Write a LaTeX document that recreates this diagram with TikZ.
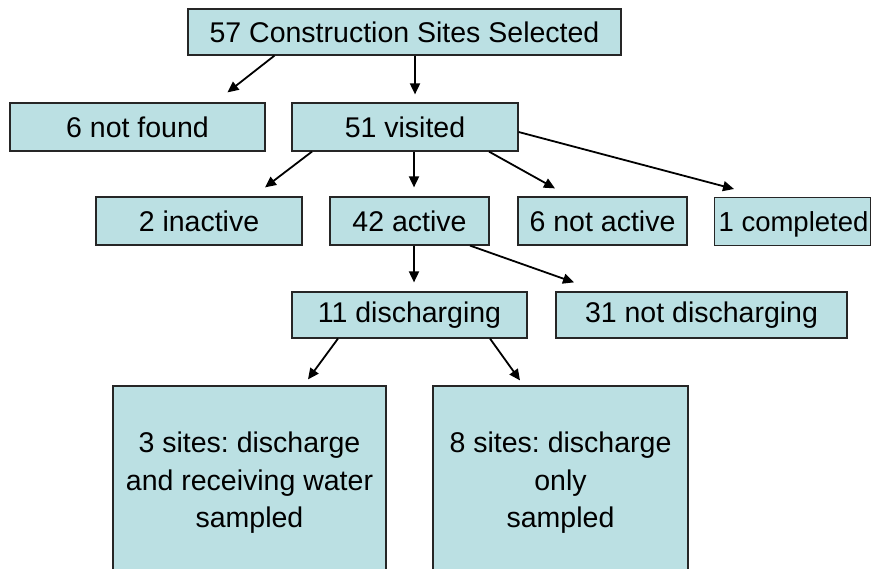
\documentclass[tikz,border=0pt]{standalone}
\usepackage{fontspec}
\setmainfont{Liberation Sans}
\usetikzlibrary{arrows.meta}
\frenchspacing

\definecolor{boxfill}{RGB}{187,224,227}

\begin{document}
\begin{tikzpicture}[x=1pt,y=1pt,
    box/.style={draw=black!85,line width=1.2pt,fill=boxfill,inner sep=0pt,
      font=\fontsize{28.5}{37.5}\selectfont},
    arr/.style={line width=1.8pt,-{Triangle[length=11pt,width=10pt]}}]
\useasboundingbox (0,0) rectangle (872,-569);
\begin{scope}
\clip (0,0) rectangle (872,-569);
% top level
\node[box,minimum width=433pt,minimum height=46pt] (sel) at (404.5,-32) {57 Construction Sites Selected};
\node[box,minimum width=255pt,minimum height=48pt] (notfound) at (137.5,-127) {6 not found};
\node[box,minimum width=226pt,minimum height=48pt] (visited) at (405,-127) {51 visited};
% visited
\node[box,minimum width=206pt,minimum height=48pt] (inactive) at (199,-221) {2 inactive};
\node[box,minimum width=159pt,minimum height=48pt] (active) at (409.5,-221) {42 active};
\node[box,minimum width=169pt,minimum height=48pt] (notactive) at (602.5,-221) {6 not active};
\node[box,minimum height=48pt,inner xsep=4pt,anchor=north west,text depth=0pt,
  font=\fontsize{27.5}{37.5}\selectfont] (completed) at (714,-197) {\makebox[148pt][l]{1 completed}};
% active
\node[box,minimum width=235pt,minimum height=46pt] (disch) at (409.5,-315) {11 discharging};
\node[box,minimum width=291pt,minimum height=46pt] (notdisch) at (701.5,-315) {31 not discharging};
% discharging
\node[box,minimum width=273pt,minimum height=194pt,align=center] (both) at (249.5,-483) {3 sites: discharge\\and receiving water\\sampled};
\node[box,minimum width=255pt,minimum height=194pt,align=center] (only) at (560.5,-483) {8 sites: discharge\\only\\sampled};
\end{scope}

\draw[arr] ([xshift=-130pt]sel.south) -- ([xshift=90pt,yshift=10pt]notfound.north);
\draw[arr] ([xshift=10.5pt]sel.south) -- ([xshift=10pt,yshift=8pt]visited.north);
\draw[arr] ([xshift=-93pt]visited.south) -- ([xshift=66pt,yshift=9pt]inactive.north);
\draw[arr] ([xshift=9pt]visited.south) -- ([xshift=4.5pt,yshift=9pt]active.north);
\draw[arr] ([xshift=84pt]visited.south) -- ([xshift=-47.5pt,yshift=8pt]notactive.north);
\draw[arr] ([yshift=-5pt]visited.east) -- ([xshift=20pt,yshift=8pt]completed.north west);
\draw[arr] ([xshift=4.5pt]active.south) -- ([xshift=4.5pt,yshift=9pt]disch.north);
\draw[arr] ([xshift=60.5pt]active.south) -- ([xshift=-127.5pt,yshift=9pt]notdisch.north);
\draw[arr] ([xshift=-71.5pt]disch.south) -- ([xshift=58.5pt,yshift=6pt]both.north);
\draw[arr] ([xshift=80.5pt]disch.south) -- ([xshift=-40.5pt,yshift=5pt]only.north);
\end{tikzpicture}
\end{document}
